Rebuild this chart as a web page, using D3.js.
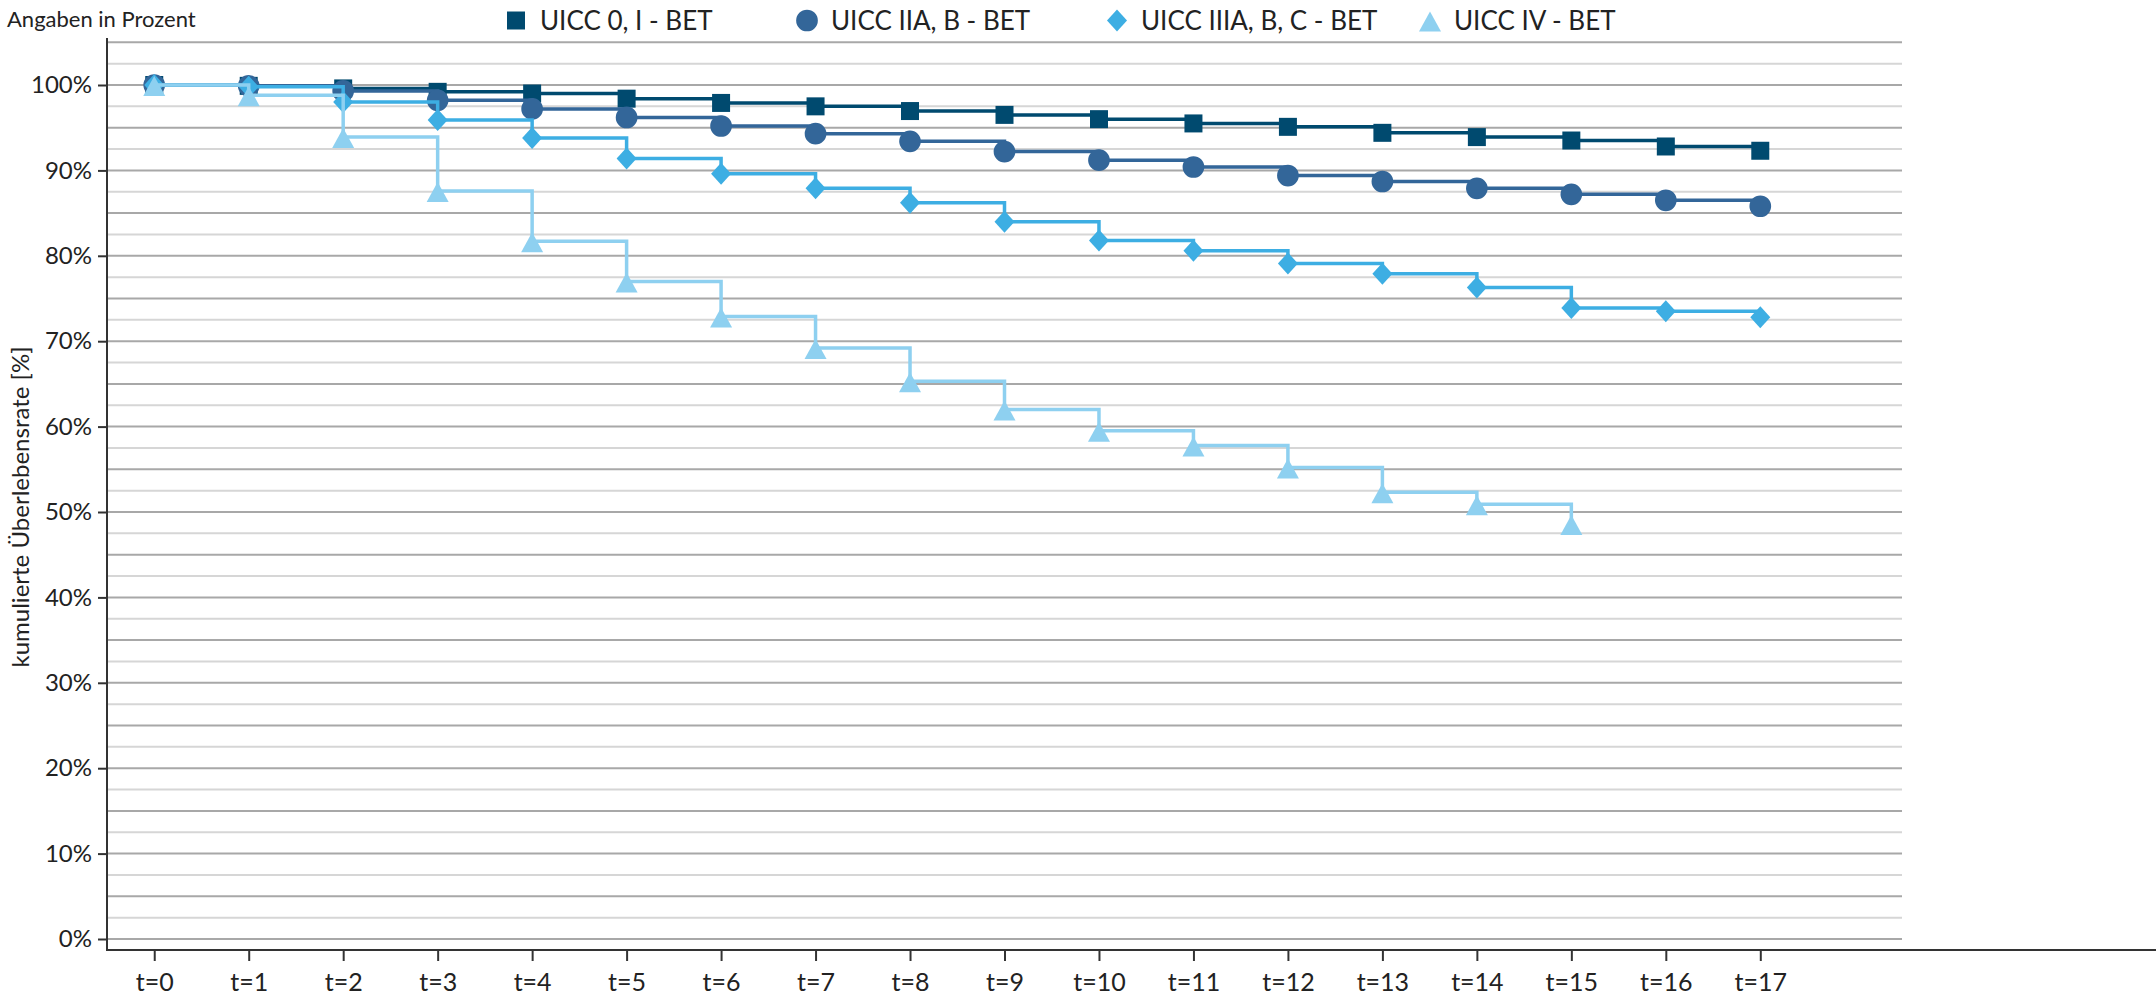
<!DOCTYPE html>
<html>
<head>
<meta charset="utf-8">
<script src="https://cdn.jsdelivr.net/npm/d3@7"></script>
<style>
  html, body { margin: 0; padding: 0; background: #fff; }
  svg { display: block; }
</style>
</head>
<body>
<svg id="chart" width="2156" height="997"></svg>
<script>
// ---------- data ----------
const categories = ["t=0","t=1","t=2","t=3","t=4","t=5","t=6","t=7","t=8","t=9","t=10","t=11","t=12","t=13","t=14","t=15","t=16","t=17"];
const seriesNames = ["UICC 0, I - BET", "UICC IIA, B - BET", "UICC IIIA, B, C - BET", "UICC IV - BET"];
const uicc0I   = [100, 99.9, 99.6, 99.2, 99.0, 98.4, 97.9, 97.5, 96.95, 96.5, 96.0, 95.5, 95.1, 94.4, 93.9, 93.5, 92.8, 92.3];
const uicc2AB  = [100, 99.9, 99.3, 98.2, 97.2, 96.2, 95.2, 94.3, 93.4, 92.2, 91.2, 90.4, 89.4, 88.7, 87.9, 87.2, 86.5, 85.8];
const uicc3ABC = [100, 99.8, 98.0, 95.9, 93.8, 91.4, 89.6, 87.9, 86.2, 84.0, 81.8, 80.6, 79.1, 77.9, 76.3, 73.9, 73.5, 72.8];
const uicc4    = [100, 98.8, 93.9, 87.6, 81.7, 77.0, 72.9, 69.2, 65.3, 62.0, 59.5, 57.8, 55.2, 52.3, 50.9, 48.6];
const yTickValues = [0, 10, 20, 30, 40, 50, 60, 70, 80, 90, 100];
const yTickLabels = ["0%", "10%", "20%", "30%", "40%", "50%", "60%", "70%", "80%", "90%", "100%"];
const gridValues = d3.range(0, 105.01, 2.5);
const unitNote = "Angaben in Prozent";
const yTitle = "kumulierte Überlebensrate [%]";

// ---------- styles ----------
const colors = ["#004a6f", "#336699", "#3daee3", "#8ed0f0"];
const shapes = ["square", "circle", "diamond", "triangle"];
const FONT = "Lato, 'Open Sans', sans-serif";

const svg = d3.select("#chart");

const x = d3.scaleLinear().domain([-0.5, 18.5]).range([107, 1902]);
const y = d3.scaleLinear().domain([0, 100]).range([939, 85]);

// grid lines
svg.append("g").selectAll("line").data(gridValues).join("line")
  .attr("x1", x(-0.5)).attr("x2", x(18.5))
  .attr("y1", d => y(d)).attr("y2", d => y(d))
  .attr("stroke", d => (Math.round(d / 2.5) % 2 === 0) ? "#a8a8a8" : "#d6d6d6")
  .attr("stroke-width", 2);

// axes
const yAxis = d3.axisLeft(y).tickValues(yTickValues)
  .tickFormat((d, i) => yTickLabels[i]).tickSize(9).tickPadding(6).tickSizeOuter(0);
const gy = svg.append("g").attr("transform", `translate(${x(-0.5)},0)`).call(yAxis);
gy.select(".domain").remove();
gy.selectAll(".tick line").attr("stroke", "#333").attr("stroke-width", 2);
gy.selectAll(".tick text").attr("font-family", FONT).attr("font-size", 24).attr("fill", "#222");

const xAxis = d3.axisBottom(x).tickValues(d3.range(categories.length))
  .tickFormat(i => categories[i]).tickSize(11).tickPadding(12).tickSizeOuter(0);
const gx = svg.append("g").attr("transform", `translate(0,950)`).call(xAxis);
gx.select(".domain").remove();
gx.selectAll(".tick line").attr("stroke", "#333").attr("stroke-width", 2);
gx.selectAll(".tick text").attr("font-family", FONT).attr("font-size", 25).attr("fill", "#222");

// axis lines
svg.append("line").attr("x1", x(-0.5)).attr("x2", x(-0.5)).attr("y1", y(105.5)).attr("y2", 951)
  .attr("stroke", "#333").attr("stroke-width", 2);
svg.append("line").attr("x1", x(-0.5) - 1).attr("x2", 2156).attr("y1", 950).attr("y2", 950)
  .attr("stroke", "#333").attr("stroke-width", 2);

// marker path generator
function markerPath(shape) {
  switch (shape) {
    case "square": return "M-9,-9H9V9H-9Z";
    case "circle": return d3.symbol(d3.symbolCircle, 370)();
    case "diamond": return "M0,-11L10,0L0,11L-10,0Z";
    case "triangle": return "M0,-9L11,11H-11Z";
  }
}

const allSeries = [uicc0I, uicc2AB, uicc3ABC, uicc4];
const line = d3.line().x((d, i) => x(i)).y(d => y(d)).curve(d3.curveStepAfter);

allSeries.forEach((vals, si) => {
  const g = svg.append("g");
  g.append("path").attr("d", line(vals)).attr("fill", "none")
    .attr("stroke", colors[si]).attr("stroke-width", 3.5);
  g.selectAll("path.m").data(vals).join("path").attr("class", "m")
    .attr("transform", (d, i) => `translate(${x(i)},${y(d)})`)
    .attr("d", markerPath(shapes[si]))
    .attr("fill", colors[si]);
});

// unit note
svg.append("text").attr("x", 7).attr("y", 27).text(unitNote)
  .attr("font-family", FONT).attr("font-size", 22).attr("fill", "#222");

// y title
svg.append("text").attr("transform", "translate(21,507) rotate(-90)")
  .attr("text-anchor", "middle").attr("dy", "0.35em").text(yTitle)
  .attr("font-family", FONT).attr("font-size", 24).attr("fill", "#222");

// legend
const legendX = [516, 807, 1117, 1430];
const lg = svg.append("g");
seriesNames.forEach((name, i) => {
  lg.append("path").attr("transform", `translate(${legendX[i]},20.5)`)
    .attr("d", markerPath(shapes[i])).attr("fill", colors[i]);
  lg.append("text").attr("x", legendX[i] + 24).attr("y", 20.5).attr("dy", "0.36em")
    .text(name).attr("font-family", FONT).attr("font-size", 26).attr("fill", "#222");
});
</script>
</body>
</html>
